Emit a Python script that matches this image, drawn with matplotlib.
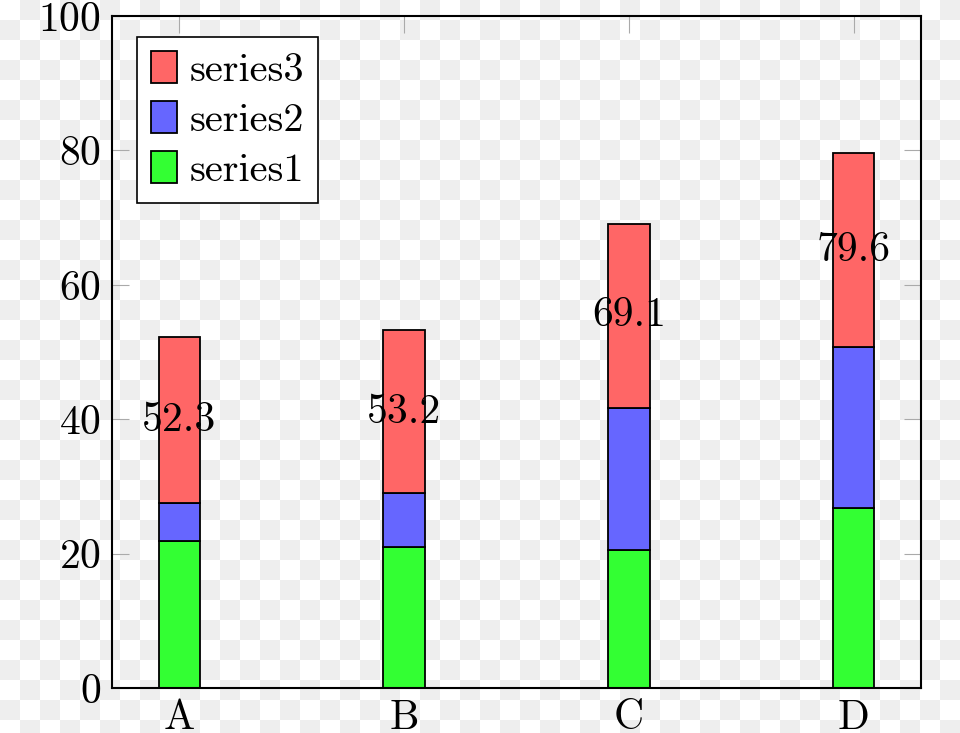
import matplotlib
matplotlib.use("Agg")
import matplotlib.pyplot as plt
import numpy as np

# stacked bar data
categories = ["A", "B", "C", "D"]
series1 = [21.9, 21.0, 20.5, 26.8]
series2 = [5.6, 8.0, 21.2, 23.9]
series3 = [24.8, 24.2, 27.4, 28.9]
totals = [52.3, 53.2, 69.1, 79.6]

plt.rcParams["font.family"] = "cmr10"
plt.rcParams["axes.formatter.use_mathtext"] = True

fig = plt.figure(figsize=(9.6, 7.33), dpi=100)

# transparency checkerboard behind everything
h, w = 733, 960
yy, xx = np.mgrid[0:h, 0:w]
checker = np.where(((xx // 20) + (yy // 20)) % 2 == 1, 0.93, 1.0)
fig.figimage(checker, cmap="gray", vmin=0, vmax=1, origin="upper", zorder=-10)
fig.patch.set_alpha(0)

ax = fig.add_axes([112 / 960, 45 / 733, 809 / 960, 672 / 733])
ax.patch.set_alpha(0)

x = np.arange(len(categories))
width = 0.185
s1 = np.array(series1)
s2 = np.array(series2)
s3 = np.array(series3)

ax.bar(x, s1, width, color="#33ff33", edgecolor="black", linewidth=1.3, label="series1", zorder=3)
ax.bar(x, s2, width, bottom=s1, color="#6666ff", edgecolor="black", linewidth=1.3, label="series2", zorder=3)
ax.bar(x, s3, width, bottom=s1 + s2, color="#ff6666", edgecolor="black", linewidth=1.3, label="series3", zorder=3)

# total labels in the middle of the top segment
for xi, b, t, tot in zip(x, s1 + s2, s3, totals):
    ax.text(xi, b + t / 2, f"{tot:.1f}", ha="center", va="center", fontsize=30, zorder=4)

ax.set_xlim(-0.3, 3.3)
ax.set_ylim(0, 100)
ax.set_xticks(x)
ax.set_xticklabels(categories)
ax.set_yticks([0, 20, 40, 60, 80, 100])

ax.tick_params(direction="in", length=12, width=0.8, color="#aaaaaa",
               top=True, right=True, labelsize=30, pad=8)
for sp in ax.spines.values():
    sp.set_linewidth(1.5)
    sp.set_zorder(5)

handles, labels = ax.get_legend_handles_labels()
leg = ax.legend(handles[::-1], labels[::-1], loc="upper left", bbox_to_anchor=(0.031, 0.969),
                borderaxespad=0, fontsize=29, fancybox=False, edgecolor="black",
                framealpha=1, handlelength=0.65, handleheight=0.85, handletextpad=0.3,
                labelspacing=0.3, borderpad=0.35)
leg.get_frame().set_linewidth(1.2)

fig.savefig("out.png", dpi=100)
